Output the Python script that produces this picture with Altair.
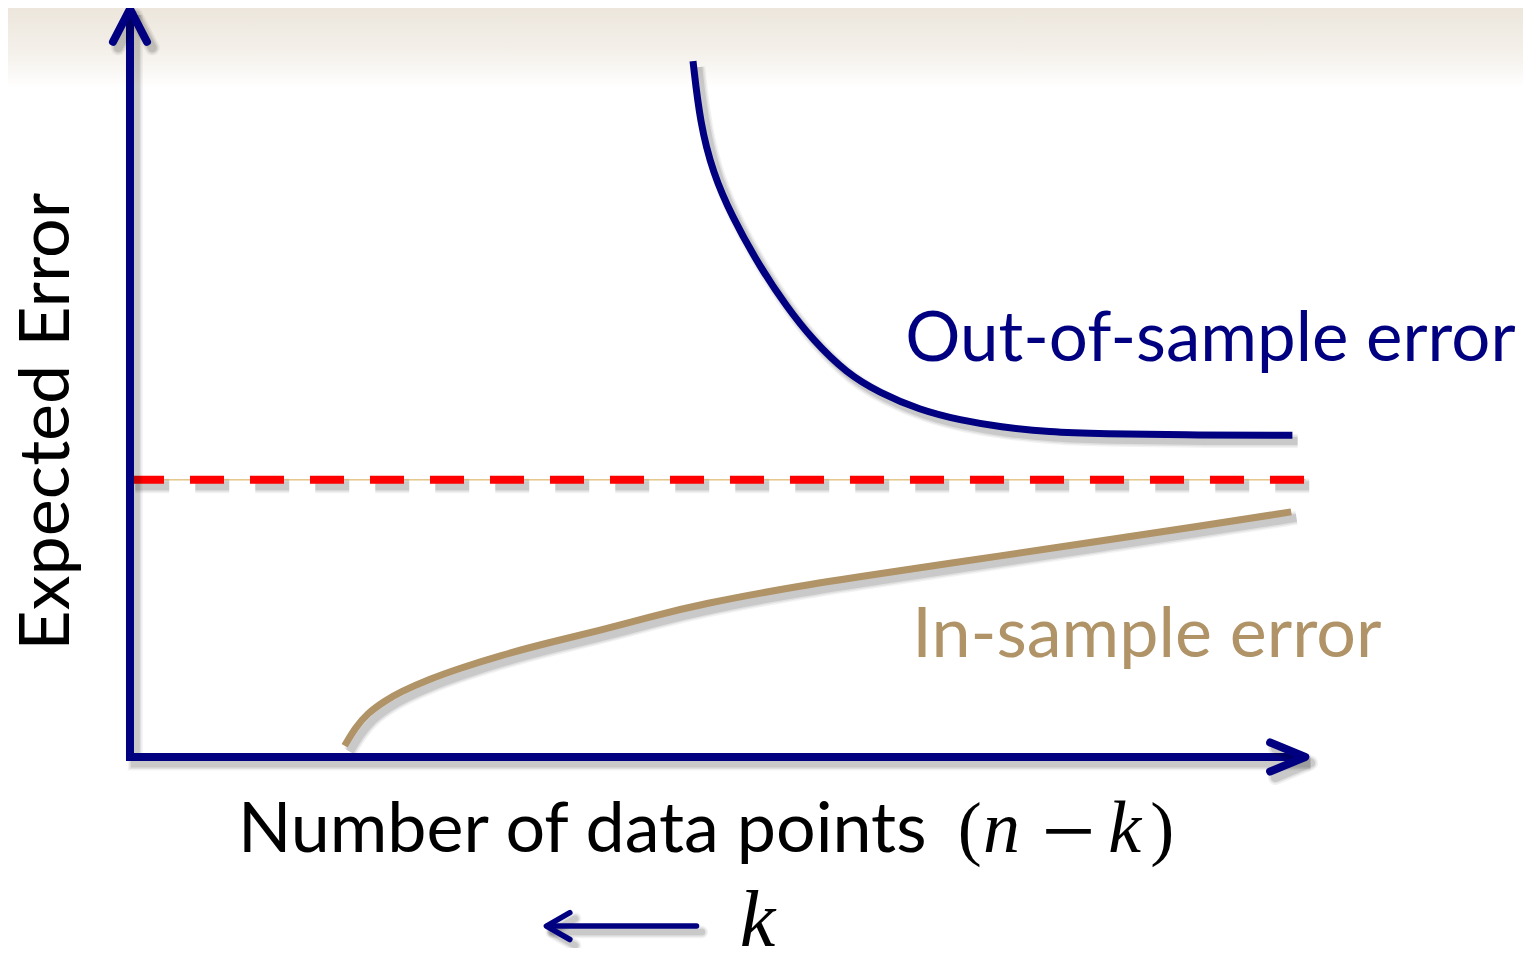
import altair as alt
import pandas as pd

NAVY = "#000080"
TAN = "#b09367"
RED = "#ff0000"
GOLD = "#d8a850"

# ---------------- data (axis units: origin = 0, arrow tips = 100) ----------------
out_x = [48.0, 48.6, 49.7, 51.3, 53.7, 56.0, 58.2, 61.1, 63.9, 67.3, 70.8, 74.2, 78.4, 82.7, 91.2, 99.1]
out_y = [93.4, 85.1, 78.4, 72.6, 65.8, 60.4, 56.0, 51.5, 48.9, 46.6, 45.2, 44.3, 43.6, 43.4, 43.2, 43.2]

in_x = [18.3, 19.2, 20.2, 21.7, 23.0, 25.6, 28.1, 31.5, 35.8, 40.1, 44.3, 48.6, 57.1, 65.6, 74.2, 82.7, 91.2, 99.0]
in_y = [1.5, 3.9, 5.8, 7.5, 8.7, 10.5, 11.9, 13.6, 15.4, 17.0, 18.8, 20.5, 23.0, 25.0, 27.0, 29.0, 31.0, 32.9]

ref_level = 37.2
ref_x = [0.0, 100.2]

frame_x = [0.0, 0.0, 100.2]
frame_y = [100.4, 0.0, 0.0]

head_seg = ["y", "y", "y", "x", "x", "x"]
head_x = [-1.45, 0.0, 1.45, 97.2, 100.2, 97.2]
head_y = [96.0, 100.4, 96.0, 1.95, 0.0, -1.95]

k_seg = ["shaft", "shaft", "head", "head", "head"]
k_x = [48.3, 35.6, 37.5, 35.5, 37.5]
k_y = [-22.7, -22.7, -20.9, -22.7, -24.5]

X_DOM = [-10.4, 118.76]
Y_DOM = [-25.64, 100.54]

XS = alt.Scale(domain=X_DOM, nice=False, zero=False)
YS = alt.Scale(domain=Y_DOM, nice=False, zero=False)


def frame(xs, ys, seg=None):
    d = pd.DataFrame({"x": xs, "y": ys, "i": list(range(len(xs)))})
    d["seg"] = seg if seg is not None else "a"
    return d


def enc(xf="x", yf="y"):
    return dict(
        x=alt.X(f"{xf}:Q", scale=XS, axis=None),
        y=alt.Y(f"{yf}:Q", scale=YS, axis=None),
        order=alt.Order("i:Q"),
        detail=alt.Detail("seg:N"),
    )


def line_layers(df, color, width, cap="round", join="round", dash=None, interp="linear", shadow=True):
    layers = []
    if shadow:
        for extra, op in [(7, 0.05), (4, 0.07), (1, 0.1)]:
            kw = dict(color="black", opacity=op, strokeWidth=width + extra, strokeCap=cap,
                      strokeJoin=join, interpolate=interp)
            if dash:
                kw["strokeDash"] = dash
            layers.append(
                alt.Chart(df)
                .transform_calculate(sx="datum.x + 0.45", sy="datum.y - 0.8")
                .mark_line(**kw)
                .encode(**enc("sx", "sy"))
            )
    kw = dict(color=color, strokeWidth=width, strokeCap=cap, strokeJoin=join, interpolate=interp)
    if dash:
        kw["strokeDash"] = dash
    layers.append(alt.Chart(df).mark_line(**kw).encode(**enc()))
    return layers


def text_layer(xs, ys, texts, **kw):
    d = pd.DataFrame({"x": xs, "y": ys, "t": texts})
    return alt.Chart(d).mark_text(**kw).encode(
        x=alt.X("x:Q", scale=XS, axis=None),
        y=alt.Y("y:Q", scale=YS, axis=None),
        text="t:N",
    )


# background gradient band at the top
bg = pd.DataFrame({"x": [X_DOM[0]], "x2": [X_DOM[1]], "y": [89.8], "y2": [Y_DOM[1]]})
grad = alt.LinearGradient(
    gradient="linear",
    stops=[
        alt.GradientStop(color="#ece6dc", offset=0),
        alt.GradientStop(color="#f4f0ea", offset=0.55),
        alt.GradientStop(color="#ffffff", offset=1),
    ],
    x1=0, x2=0, y1=0, y2=1,
)
bg_layer = alt.Chart(bg).mark_rect(fill=grad).encode(
    x=alt.X("x:Q", scale=XS, axis=None), x2="x2:Q",
    y=alt.Y("y:Q", scale=YS, axis=None), y2="y2:Q",
)

layers = [bg_layer]

# reference level: thin gold line + red dashes
ref_df = frame(ref_x, [ref_level, ref_level])
layers += line_layers(ref_df, GOLD, 1, cap="butt", shadow=False)
layers += line_layers(ref_df, RED, 8, cap="butt", dash=[34, 26])

# curves
layers += line_layers(frame(in_x, in_y), TAN, 7, cap="butt", interp="basis")
layers += line_layers(frame(out_x, out_y), NAVY, 7, cap="butt", interp="basis")

# axes
layers += line_layers(frame(frame_x, frame_y), NAVY, 8, cap="butt", join="miter")
layers += line_layers(frame(head_x, head_y, head_seg), NAVY, 8)

# k arrow
layers += line_layers(frame(k_x, k_y, k_seg), NAVY, 5.5)

# texts
SANS = "Lato"
SERIF = "Liberation Serif"
layers.append(text_layer([66.1], [53.2], ["Out-of-sample error"], font=SANS, fontSize=69,
                         color=NAVY, align="left", baseline="alphabetic"))
layers.append(text_layer([66.7], [13.4], ["In-sample error"], font=SANS, fontSize=70,
                         color=TAN, align="left", baseline="alphabetic"))
layers.append(text_layer([9.2], [-12.75], ["Number of data points"], font=SANS, fontSize=70,
                         color="black", align="left", baseline="alphabetic"))
layers.append(text_layer([-5.2], [45.0], ["Expected Error"], font=SANS, fontSize=70,
                         color="black", align="center", baseline="alphabetic", angle=270))
layers.append(text_layer([71.6, 88.0], [-12.75, -12.75], ["(", ")"],
                         font=SERIF, fontSize=72, color="black", align="center", baseline="alphabetic"))
layers.append(text_layer([80.0], [-14.2], ["\u2212"],
                         font=SERIF, fontSize=96, color="black", align="center", baseline="alphabetic"))
layers.append(text_layer([74.3, 84.8], [-12.75, -12.75], ["n", "k"], font=SERIF, fontSize=74,
                         fontStyle="italic", color="black", align="center", baseline="alphabetic"))
layers.append(text_layer([53.5], [-25.4], ["k"], font=SERIF, fontSize=80,
                         fontStyle="italic", color="black", align="center", baseline="alphabetic"))

chart = (
    alt.layer(*layers)
    .properties(
        width=1515,
        height=940,
        autosize=alt.AutoSizeParams(type="none"),
        padding=0,
        background="white",
    )
    .configure_view(stroke=None)
)

chart.save("out.html", embed_options={"renderer": "svg", "actions": False})
